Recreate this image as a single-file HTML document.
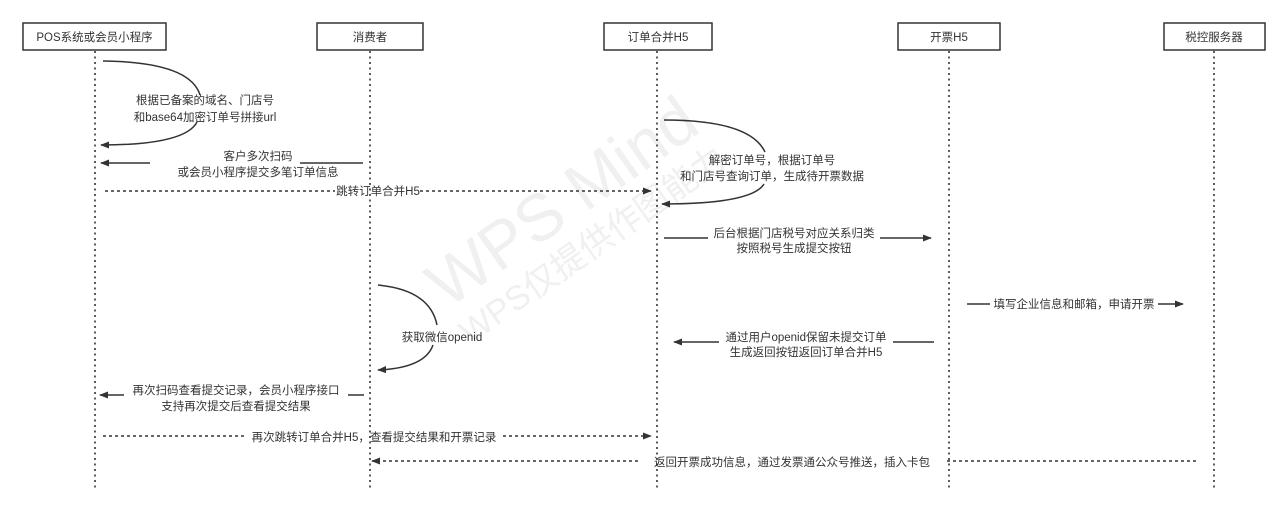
<!DOCTYPE html>
<html><head><meta charset="utf-8"><style>
html,body{margin:0;padding:0;background:#fff;width:1280px;height:514px;overflow:hidden}
svg text{font-family:"Liberation Sans","Noto Sans CJK SC",sans-serif;font-size:11.5px;fill:#333}
</style></head><body>
<svg width="1280" height="514" viewBox="0 0 1280 514" xmlns="http://www.w3.org/2000/svg">
<defs>
<marker id="a" viewBox="0 0 10 10" refX="9" refY="5" markerWidth="9" markerHeight="9" orient="auto-start-reverse" markerUnits="userSpaceOnUse"><path d="M0,1 L10,5 L0,9 z" fill="#333"/></marker>
</defs>
<!-- watermark -->
<g transform="translate(575,220) rotate(-35)" style="font-family:'Liberation Sans','Noto Sans CJK SC',sans-serif">
<text x="0" y="0" text-anchor="middle" style="font-size:66px;fill:#f0f0f0">WPS Mind</text>
<text x="0" y="42" text-anchor="middle" style="font-size:34px;fill:#f0f0f0">WPS仅提供作图能力</text>
</g>
<!-- lifelines -->
<g stroke="#333" stroke-width="1.6" stroke-dasharray="2,3.5">
<line x1="95" y1="51" x2="95" y2="490"/>
<line x1="370" y1="51" x2="370" y2="490"/>
<line x1="657" y1="51" x2="657" y2="490"/>
<line x1="949" y1="51" x2="949" y2="490"/>
<line x1="1214" y1="51" x2="1214" y2="490"/>
</g>
<!-- boxes -->
<g fill="#fff" stroke="#333" stroke-width="1.5">
<rect x="23" y="23" width="143" height="27"/>
<rect x="317" y="23" width="106" height="27"/>
<rect x="604" y="23" width="108" height="27"/>
<rect x="898" y="23" width="102" height="27"/>
<rect x="1164" y="23" width="101" height="27"/>
</g>
<g text-anchor="middle">
<text x="94.5" y="41">POS系统或会员小程序</text>
<text x="370" y="41">消费者</text>
<text x="658" y="41">订单合并H5</text>
<text x="949" y="41">开票H5</text>
<text x="1214" y="41">税控服务器</text>
</g>
<g fill="none" stroke="#333" stroke-width="1.5">
<path d="M103,61 Q190,62 200,95"/>
<path d="M197,122 Q185,145 101,145" marker-end="url(#a)"/>
<line x1="363" y1="163" x2="300" y2="163"/>
<line x1="150" y1="163" x2="101" y2="163" marker-end="url(#a)"/>
<line x1="105" y1="191" x2="335" y2="191" stroke-dasharray="3,3"/>
<line x1="420" y1="191" x2="651" y2="191" stroke-dasharray="3,3" marker-end="url(#a)"/>
<path d="M664,120 Q750,120 765,152"/>
<path d="M764,184 Q752,204 662,204" marker-end="url(#a)"/>
<line x1="664" y1="238" x2="708" y2="238"/>
<line x1="880" y1="238" x2="931" y2="238" marker-end="url(#a)"/>
<path d="M378,285 Q430,290 437,325"/>
<path d="M433,345 Q425,368 378,370" marker-end="url(#a)"/>
<line x1="967" y1="304" x2="990" y2="304"/>
<line x1="1158" y1="304" x2="1183" y2="304" marker-end="url(#a)"/>
<line x1="934" y1="342" x2="893" y2="342"/>
<line x1="719" y1="342" x2="674" y2="342" marker-end="url(#a)"/>
<line x1="364" y1="395" x2="348" y2="395"/>
<line x1="124" y1="395" x2="100" y2="395" marker-end="url(#a)"/>
<line x1="103" y1="436" x2="245" y2="436" stroke-dasharray="3,3"/>
<line x1="503" y1="436" x2="651" y2="436" stroke-dasharray="3,3" marker-end="url(#a)"/>
<line x1="1196" y1="461" x2="946" y2="461" stroke-dasharray="3,3"/>
<line x1="638" y1="461" x2="372" y2="461" stroke-dasharray="3,3" marker-end="url(#a)"/>
</g>
<g text-anchor="middle">
<text x="205" y="104">根据已备案的域名、门店号</text>
<text x="205" y="121">和base64加密订单号拼接url</text>
<text x="258" y="160">客户多次扫码</text>
<text x="258" y="176">或会员小程序提交多笔订单信息</text>
<text x="378" y="195">跳转订单合并H5</text>
<text x="772" y="164">解密订单号，根据订单号</text>
<text x="772" y="180">和门店号查询订单，生成待开票数据</text>
<text x="794" y="237">后台根据门店税号对应关系归类</text>
<text x="794" y="252">按照税号生成提交按钮</text>
<text x="442" y="341">获取微信openid</text>
<text x="1074" y="308">填写企业信息和邮箱，申请开票</text>
<text x="806" y="341">通过用户openid保留未提交订单</text>
<text x="806" y="356">生成返回按钮返回订单合并H5</text>
<text x="236" y="394">再次扫码查看提交记录，会员小程序接口</text>
<text x="236" y="410">支持再次提交后查看提交结果</text>
<text x="374" y="441">再次跳转订单合并H5，查看提交结果和开票记录</text>
<text x="792" y="466">返回开票成功信息，通过发票通公众号推送，插入卡包</text>
</g>
</svg>
</body></html>
